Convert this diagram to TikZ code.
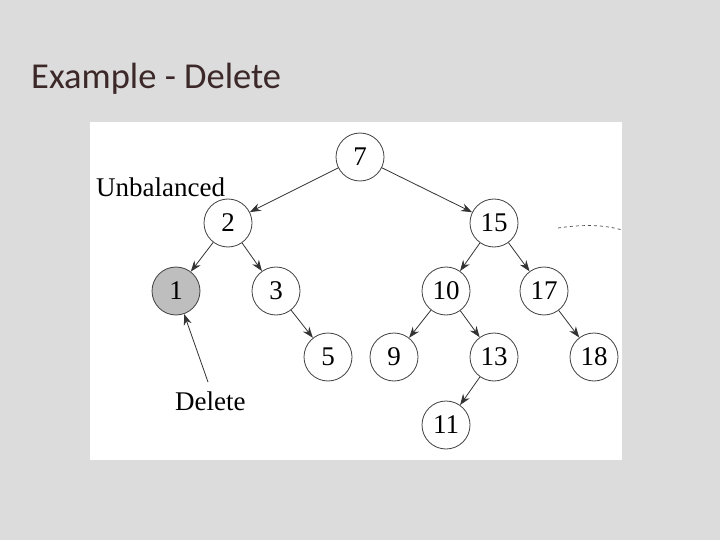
\documentclass[tikz,border=0pt]{standalone}
\usepackage{fontspec}
\setmainfont{Liberation Serif}
\newfontfamily\titlefont{Carlito}
\usetikzlibrary{arrows.meta}
\begin{document}
\begin{tikzpicture}[x=1pt,y=-1pt,
  tn/.style={circle,draw=black!75,line width=0.8pt,fill=white,minimum size=48pt,inner sep=0pt,font=\fontsize{27}{30}\selectfont},
  ed/.style={draw=black!80,line width=0.8pt,-{Stealth[length=11pt,width=8pt]}},
  lbl/.style={font=\fontsize{27}{30}\selectfont,inner sep=0pt}]
\fill[fill={rgb,255:red,220;green,220;blue,220}] (0,0) rectangle (720,540);
\useasboundingbox (0,0) rectangle (720,540);
\node[anchor=base west,inner sep=0pt,font=\titlefont\fontsize{36.5}{40}\selectfont,text={rgb,255:red,60;green,40;blue,40}] (title) at (31,89) {Example - Delete};
\fill[white] (90,122) rectangle (622,460);
\node[tn] (n7) at (360,157) {7};
\node[tn] (n2) at (228,223) {2};
\node[tn] (n15) at (494,223) {15};
\node[tn,fill={rgb,255:red,190;green,190;blue,190}] (n1) at (176,291) {1};
\node[tn] (n3) at (276,291) {3};
\node[tn] (n10) at (446,291) {10};
\node[tn] (n17) at (544,291) {17};
\node[tn] (n5) at (328,357) {5};
\node[tn] (n9) at (394,357) {9};
\node[tn] (n13) at (494,357) {13};
\node[tn] (n18) at (594,357) {18};
\node[tn] (n11) at (446,425) {11};
\draw[ed] (n7) -- (n2);
\draw[ed] (n7) -- (n15);
\draw[ed] (n2) -- (n1);
\draw[ed] (n2) -- (n3);
\draw[ed] (n3) -- (n5);
\draw[ed] (n15) -- (n10);
\draw[ed] (n15) -- (n17);
\draw[ed] (n10) -- (n9);
\draw[ed] (n10) -- (n13);
\draw[ed] (n17) -- (n18);
\draw[ed] (n13) -- (n11);
\node[lbl,anchor=west] (unb) at (96,187) {Unbalanced};
\node[lbl,anchor=west] (del) at (175,401) {Delete};
\coordinate (dt) at (208,382);
\draw[ed] (dt) -- (n1);
\coordinate (da) at (558,228);
\coordinate (db) at (622,230);
\draw[black!70,dashed,line width=0.7pt] (da) .. controls (585,224) and (605,225) .. (db);
\end{tikzpicture}
\end{document}
